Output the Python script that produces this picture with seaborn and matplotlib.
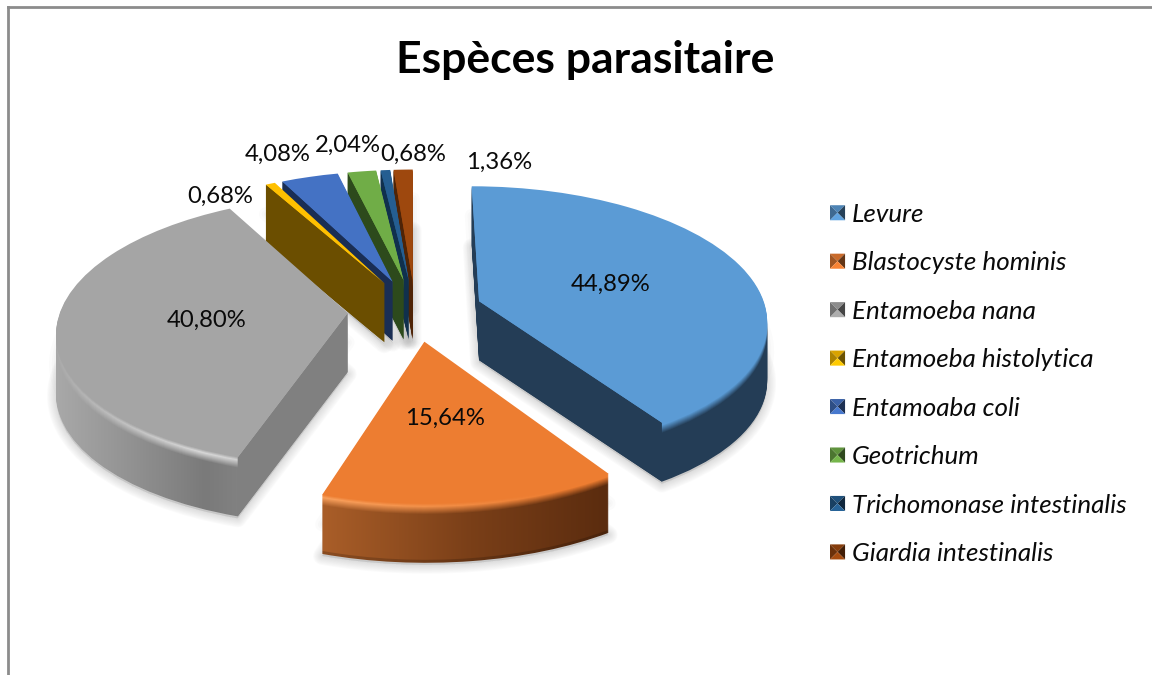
import numpy as np
import matplotlib
matplotlib.use("Agg")
import matplotlib.pyplot as plt
import seaborn as sns
from matplotlib.colors import to_rgb
from matplotlib.legend_handler import HandlerPatch
from matplotlib.patches import PathPatch, Polygon, Wedge
from matplotlib.path import Path
from matplotlib.transforms import Transform

species = ["Levure", "Blastocyste hominis", "Entamoeba nana", "Entamoeba histolytica",
           "Entamoaba coli", "Geotrichum", "Trichomonase intestinalis", "Giardia intestinalis"]
percent = [44.89, 15.64, 40.80, 0.68, 4.08, 2.04, 0.68, 1.36]
top_colors = ["#5b9bd5", "#ed7d31", "#a5a5a5", "#ffc000", "#4472c4", "#70ad47", "#255e91", "#9e480e"]
side_colors = ["#243d56", "#6e3610", "#808080", "#6b4e00", "#1a2e54", "#2d4a1c", "#10304d", "#4f2407"]
title = "Espèces parasitaire"
label_pos = [(611, 284), (445, 418), (207, 320), (220, 196), (278, 154), (348, 145), (413, 154), (499, 162)]

sns.set_theme(style="white")
plt.rcParams["font.family"] = ["Lato", "DejaVu Sans"]

W, H = 1152, 675
CX, CY, RX, RY, K, DEPTH = 415.0, 310.0, 287.0, 132.0, 0.13, 59
L, T = 7.5, 7.0

fig = plt.figure(figsize=(W / 100, H / 100), dpi=100, facecolor="white")
ax = fig.add_axes([L / W, 0, 1 - L / W, 1 - T / H])


class Persp(Transform):
    input_dims = output_dims = 2
    is_affine = False

    def __init__(self, drop=0.0):
        super().__init__()
        self.drop = drop

    def transform_non_affine(self, xy):
        xy = np.asarray(xy, float)
        w = 1 + K * xy[:, 1]
        return np.column_stack([CX + RX * xy[:, 0] / w, CY - RY * xy[:, 1] / w + self.drop])


wedges, _ = ax.pie(percent, explode=[0.235] * len(percent), startangle=90, counterclock=False,
                   colors=sns.color_palette(top_colors), frame=True)
ax.set_aspect("auto")


def shifted(w, d):
    p = w.get_path()
    return Path(Persp(d).transform_non_affine(p.vertices), p.codes)


# x in pixels -> colour of the curved wall
def rim_stops(i):
    if i == 1:
        return [327, 470, 606], ["#a85d28", "#7a3f18", "#5b2c0f"]
    if i == 2:
        return [58, 130, 205, 240], ["#a8a8a8", "#929292", "#7a7a7a", "#828282"]
    return [0, W], [side_colors[i], side_colors[i]]


def highlight(i, x):
    if i == 1:
        return "#f9a05c", np.interp(x, [327, 560], [1.0, 0.0])
    if i == 2:
        return "#d8d8d8", np.interp(x, [58, 110, 200, 240], [0.15, 0.5, 1.0, 0.9])
    return top_colors[i], np.zeros_like(x)


def layer_colors(i, d, x):
    xs, cs = rim_stops(i)
    cs = np.array([to_rgb(c) for c in cs])
    rim = np.column_stack([np.interp(x, xs, cs[:, k]) for k in range(3)])
    if d > DEPTH - 3 and i == 1:
        rim = rim * 0.82
    top = np.array(to_rgb(top_colors[i]))
    hl_col, hl_s = highlight(i, x)
    hl = top + (np.array(to_rgb(hl_col)) - top) * hl_s[:, None]
    if d <= 3:
        a = top + (hl - top) * (d / 3)
    elif d <= 11:
        a = hl + (rim - hl) * ((d - 3) / 8)
    else:
        a = rim
    return np.clip(a, 0, 1)


# soft shadows below the slices
for w in wedges:
    for lw in range(16, 1, -2):
        ax.add_patch(PathPatch(shifted(w, DEPTH + 2), transform=ax.transData, fc="#8a8a8a", ec="#8a8a8a",
                               lw=lw * 0.8, alpha=0.035, zorder=1, joinstyle="round"))
    for lw in (10, 6, 3):
        ax.add_patch(PathPatch(shifted(w, DEPTH / 2), transform=ax.transData, fc="#8a8a8a", ec="#8a8a8a",
                               lw=lw, alpha=0.03, zorder=1, joinstyle="round"))

xgrid = np.arange(L, W) + 0.5
order = [7, 6, 5, 4, 3, 2, 0, 1]
z = 2.0
for i in order:
    w = wedges[i]
    for d in range(DEPTH, 0, -1):
        z += 0.001
        if i in (1, 2):
            row = (layer_colors(i, d, xgrid)[None, :, :] * 255).astype(np.uint8)
            im = ax.imshow(row, extent=(L, W, H, T), aspect="auto", zorder=z, interpolation="nearest")
            im.set_clip_path(shifted(w, d), ax.transData)
        else:
            col = layer_colors(i, d, np.array([0.0]))[0]
            ax.add_patch(PathPatch(shifted(w, d), transform=ax.transData, fc=col, ec="none", zorder=z))
    # straight walls along radial edges, only where they face the viewer
    top_path = shifted(w, 0)
    for theta in (w.theta1, w.theta2):
        rad = np.deg2rad(theta)
        pts = np.array([w.center, (w.center[0] + w.r * np.cos(rad), w.center[1] + w.r * np.sin(rad))])
        up = Persp(0).transform_non_affine(pts)
        dn = Persp(DEPTH).transform_non_affine(pts)
        if top_path.contains_point(up.mean(axis=0) + np.array([0.0, 2.0])):
            continue
        z += 0.001
        ax.add_patch(Polygon(np.vstack([up, dn[::-1]]), closed=True, transform=ax.transData,
                             fc=side_colors[i], ec="none", zorder=z))
    z += 0.001
    w.set_transform(Persp(0) + ax.transData)
    w.set_zorder(z)
    w.set_edgecolor("none")

ax.set_xlim(L, W)
ax.set_ylim(H, T)
ax.set_xticks([])
ax.set_yticks([])
for name, sp in ax.spines.items():
    sp.set_visible(name in ("left", "top"))
    sp.set_color("#8c8c8c")
    sp.set_linewidth(2.0)

for (px, py), v in zip(label_pos, percent):
    ax.text(px, py, f"{v:.2f}".replace(".", ",") + "%", ha="center", va="center",
            fontsize=17.2, color="#0a0a0a", zorder=50)

ax.set_title(title, x=(585 - L) / (W - L), y=1 - (68 - T) / (H - T), va="center",
             fontsize=32, fontweight="bold", color="black")


class PyramidKey(HandlerPatch):
    def create_artists(self, legend, orig, xd, yd, width, height, fontsize, trans):
        c = np.array(orig.get_facecolor()[:3])
        side = min(width, height)
        x0, y0 = -xd + (width - side) / 2, -yd + (height - side) / 2
        x1, y1 = x0 + side, y0 + side
        m = (x0 + side / 2, y0 + side / 2)
        faces = [([(x0, y1), (x1, y1), m], 0.85), ([(x0, y0), (x0, y1), m], 0.68),
                 ([(x1, y0), (x1, y1), m], 0.42), ([(x0, y0), (x1, y0), m], 1.05)]
        return [Polygon(v, closed=True, fc=np.clip(c * f, 0, 1), ec="none", transform=trans) for v, f in faces]


leg = ax.legend(wedges, species, handler_map={Wedge: PyramidKey()}, loc="center left",
                bbox_to_anchor=((830 - L) / (W - L), 1 - (384 - T) / (H - T)),
                frameon=False, borderpad=0, borderaxespad=0,
                labelspacing=0.98, handlelength=0.58, handleheight=0.58, handletextpad=0.27,
                prop={"style": "italic", "size": 18.7})
for t in leg.get_texts():
    t.set_color("#0a0a0a")

fig.savefig("out.png", dpi=100)
